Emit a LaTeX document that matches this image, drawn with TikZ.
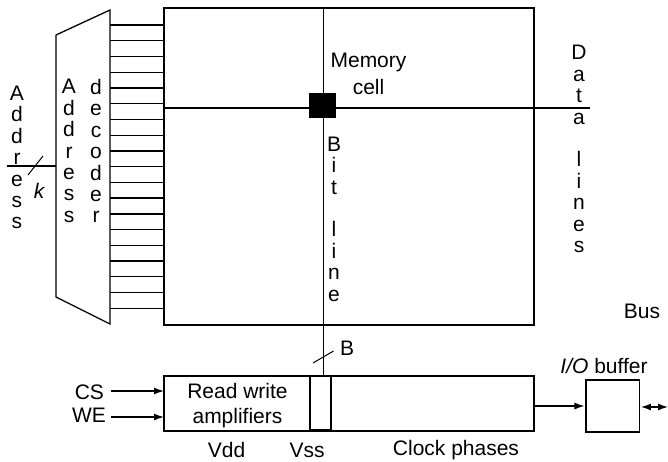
\documentclass[tikz,border=0pt]{standalone}
\usepackage{fontspec}
\setmainfont{Liberation Sans}
\usetikzlibrary{arrows.meta, positioning, calc}

\begin{document}
\begin{tikzpicture}[
    x=1pt, y=-1pt,
    line width=1.3pt,
    box/.style={draw, inner sep=0pt, outer sep=0pt},
    lbl/.style={font=\fontsize{21}{21.4}\selectfont, align=center, inner sep=0pt, outer sep=0pt},
    flow/.style={-{Latex[length=10pt,width=7pt]}}
]
\useasboundingbox (0,0) rectangle (668,461);

% memory array and sense block
\node[box, minimum width=370pt, minimum height=317pt] (array) at (349,166.5) {};
\node[box, minimum width=370pt, minimum height=55pt] (amps) at (349,403.5) {};
\node[box, minimum width=21pt, minimum height=54pt] (vsscell) at (320.5,403) {};
\node[box, minimum width=53.5pt, minimum height=52pt] (iobuf) at (612.7,406) {};
\node[box, fill=black, minimum width=25pt, minimum height=23pt] (cell) at (322.5,105.5) {};

% decoder
\coordinate (dectl) at (56,35);
\coordinate (dectr) at (110,10);
\coordinate (decbr) at (110,324);
\coordinate (decbl) at (56,297);
\draw (dectl) -- (dectr) -- (decbr) -- (decbl) -- cycle;
\foreach \i in {0,...,18} {
    \coordinate (word\i) at (110,{25+\i*15.74});
    \draw (word\i) -- (word\i -| array.west);
}

% address input
\coordinate (addrin) at (7,166);
\draw (addrin) -- (addrin -| dectl);
\coordinate (kslashA) at (28,175);
\coordinate (kslashB) at (43,156);
\draw[line width=1pt] (kslashA) -- (kslashB);

% bit and data lines
\coordinate (bittop) at ([xshift=0.8pt]array.north -| cell);
\coordinate (dataend) at (590,108);
\draw (bittop) -- (bittop |- amps.north);
\draw (dataend -| array.west) -- (dataend);
\coordinate (bslashA) at (313,363);
\coordinate (bslashB) at (333.5,351);
\draw[line width=1pt] (bslashA) -- (bslashB);

% labels
\node[lbl] (addrtxt) at (17,157.5) {A\\d\\d\\r\\e\\s\\s};
\node[lbl] (ktxt) at (39,191) {\itshape k};
\node[lbl] (dectxta) at (69,151) {A\\d\\d\\r\\e\\s\\s};
\node[lbl] (dectxtb) at (96,151) {d\\e\\c\\o\\d\\e\\r};
\node[lbl] (celltxt) at (368.5,74) {Memory\\[5.6pt]cell};
\node[lbl] (bittxt) at (334,219) {B\\i\\t\\[21.4pt]l\\i\\n\\e};
\node[lbl] (datatxt) at (579,149) {D\\a\\t\\a\\[21.4pt]l\\i\\n\\e\\s};
\node[lbl] (bustxt) at (642,311) {Bus};
\node[lbl] (btxt) at (347,348) {B};
\node[lbl] (iotxt) at (604,366) {\textit{I/O} buffer};
\node[lbl] (rwtxt) at (237.5,405.5) {Read write\\[3.6pt]amplifiers};
\node[lbl] (vdd) at (226.5,450) {Vdd};
\node[lbl] (vss) at (307,450) {Vss};
\node[lbl] (clk) at (456,450) {Clock phases};

% control and output
\node[lbl, anchor=east] (cs) at (104,392) {CS};
\node[lbl, anchor=east] (we) at (106,415) {WE};
\draw[flow] ([xshift=7pt,yshift=1pt]cs.east) -- ([yshift=1pt]cs.east -| amps.west);
\draw[flow] ([xshift=5pt,yshift=-2pt]we.east) -- ([yshift=-2pt]we.east -| amps.west);
\draw[flow] (amps.east |- iobuf.west) -- ([xshift=-1.5pt]iobuf.west);
\coordinate (busend) at (668,407);
\draw[{Latex[length=10pt,width=7pt]}-{Latex[length=10pt,width=7pt]}] ([xshift=1.5pt]iobuf.east |- busend) -- (busend);
\end{tikzpicture}
\end{document}
